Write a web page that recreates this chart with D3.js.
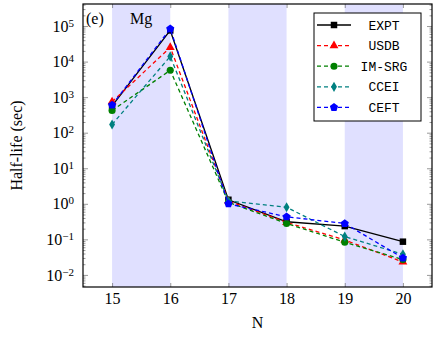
<!DOCTYPE html>
<html>
<head>
<meta charset="utf-8">
<script src="https://cdn.jsdelivr.net/npm/d3@7"></script>
<style>
  body { margin: 0; background: #fff; }
  svg { display: block; }
</style>
</head>
<body>
<div id="chart"></div>
<script>
// neutron number N
const neutrons = [15, 16, 17, 18, 19, 20];
// half-lives in seconds
const expt = [567, 75240, 1.30, 0.313, 0.236, 0.086];
const usdb = [740, 25000, 1.2, 0.30, 0.096, 0.023];
const imsrg = [420, 5700, 1.1, 0.28, 0.083, 0.027];
const ccei = [170, 14000, 1.2, 0.80, 0.12, 0.038];
const ceft = [600, 84000, 1.0, 0.43, 0.28, 0.030];
const bands = [[15, 16], [17, 18], [19, 20]];
const yDecades = [-2, -1, 0, 1, 2, 3, 4, 5];

const width = 436, height = 338;
const margin = { top: 4, right: 4, bottom: 51, left: 83 };
const SERIF = 'Liberation Serif';
const MONO = 'Liberation Mono';

// pentagon marker, d3 has none
const symbolPentagon = {
  draw(ctx, size) {
    const r = Math.sqrt(size / 2.378);
    for (let i = 0; i < 5; i++) {
      const a = -Math.PI / 2 + i * 2 * Math.PI / 5;
      const px = r * Math.cos(a), py = r * Math.sin(a);
      if (i === 0) ctx.moveTo(px, py); else ctx.lineTo(px, py);
    }
    ctx.closePath();
  },
};

const series = [
  { name: 'EXPT', values: expt, color: '#000000', dash: null, symbol: d3.symbolSquare, size: 42 },
  { name: 'USDB', values: usdb, color: '#ff0000', dash: '4,3', symbol: d3.symbolTriangle, size: 34 },
  { name: 'IM-SRG', values: imsrg, color: '#008000', dash: '4,3', symbol: d3.symbolCircle, size: 40 },
  { name: 'CCEI', values: ccei, color: '#008080', dash: '4,3', symbol: d3.symbolDiamond, size: 30 },
  { name: 'CEFT', values: ceft, color: '#0000ff', dash: '4,3', symbol: symbolPentagon, size: 44 },
];

const svg = d3.select('#chart').append('svg')
  .attr('width', width).attr('height', height)
  .attr('font-family', SERIF);

const x = d3.scaleLinear()
  .domain([14.5, 20.5])
  .range([margin.left, width - margin.right]);
const y = d3.scaleLog()
  .domain([Math.pow(10, -2.34), Math.pow(10, 5.62)])
  .range([height - margin.bottom, margin.top]);

const x0 = margin.left, x1 = width - margin.right;
const y0 = height - margin.bottom, y1 = margin.top;

// shaded bands
svg.append('g').selectAll('rect').data(bands).join('rect')
  .attr('x', d => x(d[0]))
  .attr('y', y1)
  .attr('width', d => x(d[1]) - x(d[0]))
  .attr('height', y0 - y1)
  .attr('fill', '#e0e0ff');

// minor ticks on the log axis
const minor = [];
for (let e = -3; e <= 5; e++) {
  for (let m = 2; m <= 9; m++) {
    const v = m * Math.pow(10, e);
    if (v > y.domain()[0] && v < y.domain()[1]) minor.push(v);
  }
}
const majors = yDecades.map(e => Math.pow(10, e));

const tickStyle = g => {
  g.attr('font-family', SERIF).attr('font-size', 16);
  g.select('.domain').remove();
  g.selectAll('.tick line').attr('stroke', '#555').attr('stroke-width', 0.6);
};

svg.append('g').attr('transform', `translate(${x0},0)`)
  .call(d3.axisLeft(y).tickValues(minor).tickSize(-2.5).tickFormat(''))
  .call(tickStyle);
svg.append('g').attr('transform', `translate(${x1},0)`)
  .call(d3.axisRight(y).tickValues(minor).tickSize(-2.5).tickFormat(''))
  .call(tickStyle);
svg.append('g').attr('transform', `translate(${x1},0)`)
  .call(d3.axisRight(y).tickValues(majors).tickSize(-5).tickFormat(''))
  .call(tickStyle);

const yAxis = svg.append('g').attr('transform', `translate(${x0},0)`)
  .call(d3.axisLeft(y).tickValues(majors).tickSizeInner(-5).tickSizeOuter(0).tickFormat(''))
  .call(tickStyle);
yAxis.selectAll('.tick text').remove();
yAxis.selectAll('.tick').each(function (d) {
  const t = d3.select(this).append('text')
    .attr('x', -9)
    .attr('dy', '0.32em')
    .attr('fill', '#000')
    .attr('text-anchor', 'end');
  t.append('tspan').text('10');
  t.append('tspan')
    .attr('dy', '-0.45em')
    .attr('font-size', 11)
    .text(String(Math.round(Math.log10(d))).replace('-', '\u2212'));
});

const xAxis = svg.append('g').attr('transform', `translate(0,${y0})`)
  .call(d3.axisBottom(x).tickValues(neutrons).tickFormat(d3.format('d'))
    .tickSizeInner(-4).tickSizeOuter(0).tickPadding(6))
  .call(tickStyle);
xAxis.selectAll('.tick text').attr('fill', '#000');
svg.append('g').attr('transform', `translate(0,${y1})`)
  .call(d3.axisTop(x).tickValues(neutrons).tickSize(-4).tickFormat(''))
  .call(tickStyle);

// lines and markers
const line = d3.line()
  .x((d, i) => x(neutrons[i]))
  .y(d => y(d));

const sg = svg.append('g').selectAll('g').data(series).join('g');
sg.append('path')
  .attr('d', d => line(d.values))
  .attr('fill', 'none')
  .attr('stroke', d => d.color)
  .attr('stroke-width', 1.3)
  .attr('stroke-dasharray', d => d.dash);
sg.each(function (s) {
  d3.select(this).selectAll('path.mark').data(s.values).join('path')
    .attr('class', 'mark')
    .attr('transform', (d, i) => `translate(${x(neutrons[i])},${y(d)})`)
    .attr('d', d3.symbol().type(s.symbol).size(s.size))
    .attr('fill', s.color);
});

// frame
svg.append('rect')
  .attr('x', x0).attr('y', y1)
  .attr('width', x1 - x0).attr('height', y0 - y1)
  .attr('fill', 'none')
  .attr('stroke', '#000')
  .attr('stroke-width', 1.2);

// annotations
svg.append('text')
  .attr('x', 86).attr('y', 24)
  .attr('font-size', 16)
  .text('(e)');
svg.append('text')
  .attr('x', (x(15) + x(16)) / 2).attr('y', 24)
  .attr('text-anchor', 'middle')
  .attr('font-size', 16)
  .text('Mg');

// axis titles
svg.append('text')
  .attr('x', (x0 + x1) / 2).attr('y', 328)
  .attr('text-anchor', 'middle')
  .attr('font-size', 16)
  .text('N');
svg.append('text')
  .attr('transform', `translate(22,${(y0 + y1) / 2}) rotate(-90)`)
  .attr('text-anchor', 'middle')
  .attr('font-size', 16)
  .text('Half-life (sec)');

// legend
const lg = svg.append('g');
lg.append('rect')
  .attr('x', 314).attr('y', 13)
  .attr('width', 107).attr('height', 108)
  .attr('fill', '#fff')
  .attr('stroke', '#000')
  .attr('stroke-width', 1);
const li = lg.selectAll('g.item').data(series).join('g')
  .attr('class', 'item')
  .attr('transform', (d, i) => `translate(0,${25 + i * 20.6})`);
li.append('line')
  .attr('x1', 317).attr('x2', 351)
  .attr('stroke', d => d.color)
  .attr('stroke-width', 1.3)
  .attr('stroke-dasharray', d => d.dash);
li.append('path')
  .attr('transform', 'translate(334,0)')
  .attr('d', d => d3.symbol().type(d.symbol).size(d.size)())
  .attr('fill', d => d.color);
li.append('text')
  .attr('x', 384).attr('dy', '0.35em')
  .attr('text-anchor', 'middle')
  .attr('font-family', MONO)
  .attr('font-size', 13)
  .text(d => d.name);
</script>
</body>
</html>
